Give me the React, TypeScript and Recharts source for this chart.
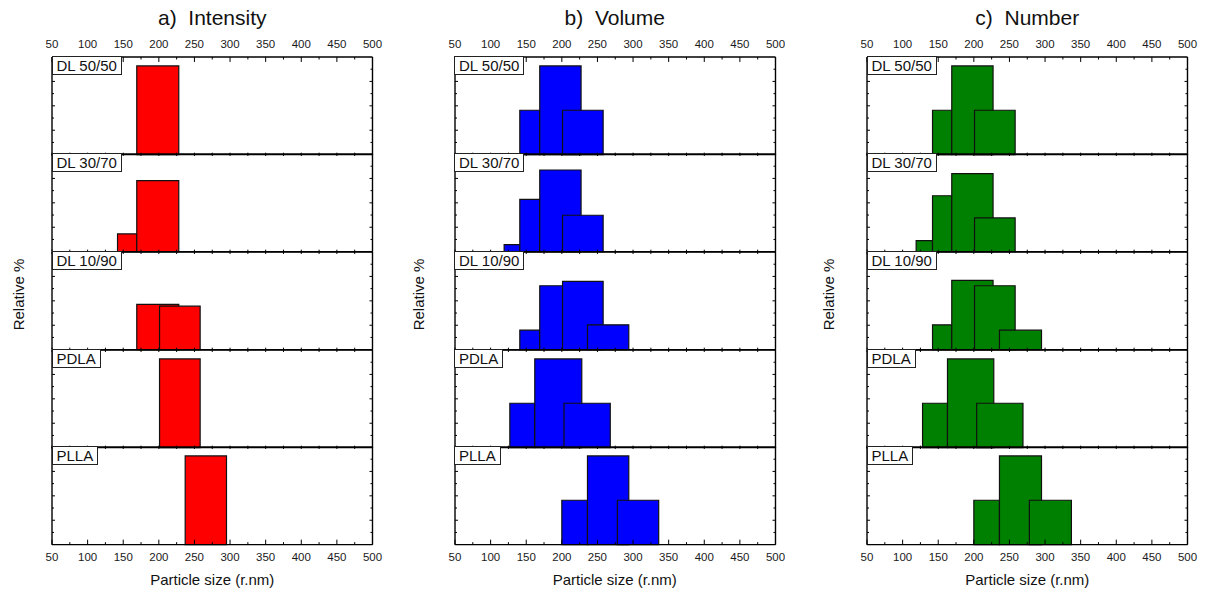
import { ComposedChart, XAxis, YAxis, ReferenceArea } from "recharts";

const FONT = '"Liberation Sans", Arial, Helvetica, sans-serif';

// sample rows, top to bottom
const samples = ["DL 50/50", "DL 30/70", "DL 10/90", "PDLA", "PLLA"];
const panelTitles = ["a)  Intensity", "b)  Volume", "c)  Number"];
const panelColors = ["#ff0000", "#0000ff", "#008000"];

const xMajorTicks = [50, 100, 150, 200, 250, 300, 350, 400, 450, 500];
const xAllTicks = [
  50, 75, 100, 125, 150, 175, 200, 225, 250, 275, 300, 325, 350, 375, 400, 425, 450, 475, 500,
];
const yTicks = [13.75, 27.5, 41.25, 55, 68.75, 82.5, 96.25];

// [lower size, upper size, relative %] per size class
type Bin = [number, number, number];

const intensityBins: Bin[][] = [
  [[169, 228, 100]],
  [[142, 169, 20], [169, 228, 80]],
  [[169, 228, 51], [201, 258, 49]],
  [[201, 258, 100]],
  [[237, 295, 100]],
];

const volumeBins: Bin[][] = [
  [[141, 169, 50], [169, 227, 100], [201, 258, 50]],
  [[119, 141, 8], [141, 169, 59], [169, 227, 92], [201, 258, 41]],
  [[141, 169, 22], [169, 227, 72], [201, 258, 77], [236, 294, 28]],
  [[127, 162, 50], [162, 228, 100], [203, 268, 50]],
  [[200, 236, 50], [236, 294, 100], [278, 336, 50]],
];

const numberBins: Bin[][] = [
  [[142, 169, 50], [169, 227, 100], [201, 258, 50]],
  [[119, 142, 12.5], [142, 169, 63], [169, 227, 88], [201, 258, 38]],
  [[142, 169, 28], [169, 227, 78], [201, 258, 72], [236, 295, 22]],
  [[128, 163, 50], [163, 228, 100], [204, 269, 50]],
  [[200, 236, 50], [236, 295, 100], [278, 337, 50]],
];

const panels = [intensityBins, volumeBins, numberBins];

// layout
const PLOT_LEFT = [52, 454.5, 867];
const YLABEL_X = [18.3, 418.3, 828.3];
const PLOT_W = 320.5;
const PLOT_TOP = 56.7;
const SUB_H = 97.66;
const PAD = 10;
const TOP_EXTRA = 40;
const BOTTOM_EXTRA = 30;
const AXIS_SIZE = 1; // axes take 1px of the margin

function XTick(props: any) {
  const { x, y, payload, side, outer } = props;
  const v = payload.value;
  const major = xMajorTicks.includes(v);
  const dir = side === "top" ? 1 : -1;
  const len = outer ? (major ? 5 : 2.5) : 2;
  return (
    <g>
      <line x1={x} x2={x} y1={y} y2={y + dir * len} stroke="#000" strokeWidth={1} />
      {outer && major && (
        <text
          x={x}
          y={side === "top" ? y - 9 : y + 16}
          textAnchor="middle"
          fontSize={11.5}
          fontFamily={FONT}
          fill="#1a1a1a"
        >
          {v}
        </text>
      )}
    </g>
  );
}

function YTick(props: any) {
  const { x, y, index, side } = props;
  const dir = side === "left" ? 1 : -1;
  const len = index % 2 === 1 ? 3 : 2;
  return <line x1={x} x2={x + dir * len} y1={y} y2={y} stroke="#000" strokeWidth={1} />;
}

function SubPlot({
  bins,
  color,
  row,
  left,
}: {
  bins: Bin[];
  color: string;
  row: number;
  left: number;
}) {
  const first = row === 0;
  const last = row === samples.length - 1;
  const mTop = first ? TOP_EXTRA : PAD;
  const mBottom = last ? BOTTOM_EXTRA : PAD;
  const top = PLOT_TOP + row * SUB_H;
  const axisLine = { stroke: "#000", strokeWidth: 1.4 };
  const data = bins.map(([lo, hi, value]) => ({ lo, hi, value }));

  return (
    <div style={{ position: "absolute", left: left - PAD, top: top - mTop }}>
      <ComposedChart
        width={PLOT_W + 2 * PAD}
        height={SUB_H + mTop + mBottom}
        margin={{
          top: mTop - AXIS_SIZE,
          right: PAD - AXIS_SIZE,
          bottom: mBottom - AXIS_SIZE,
          left: PAD - AXIS_SIZE,
        }}
        data={data}
      >
        <XAxis
          xAxisId="b"
          dataKey="lo"
          type="number"
          domain={[50, 500]}
          allowDataOverflow
          ticks={xAllTicks}
          interval={0}
          orientation="bottom"
          height={AXIS_SIZE}
          tickSize={0}
          tickMargin={0}
          tickLine={false}
          axisLine={axisLine}
          tick={(p: any) => <XTick {...p} side="bottom" outer={last} />}
        />
        <XAxis
          xAxisId="t"
          dataKey="lo"
          type="number"
          domain={[50, 500]}
          allowDataOverflow
          ticks={xAllTicks}
          interval={0}
          orientation="top"
          height={AXIS_SIZE}
          tickSize={0}
          tickMargin={0}
          tickLine={false}
          axisLine={axisLine}
          tick={(p: any) => <XTick {...p} side="top" outer={first} />}
        />
        <YAxis
          yAxisId="l"
          dataKey="value"
          type="number"
          domain={[0, 110]}
          allowDataOverflow
          ticks={yTicks}
          interval={0}
          width={AXIS_SIZE}
          tickSize={0}
          tickMargin={0}
          tickLine={false}
          axisLine={axisLine}
          tick={(p: any) => <YTick {...p} side="left" />}
        />
        <YAxis
          yAxisId="r"
          dataKey="value"
          orientation="right"
          type="number"
          domain={[0, 110]}
          allowDataOverflow
          ticks={yTicks}
          interval={0}
          width={AXIS_SIZE}
          tickSize={0}
          tickMargin={0}
          tickLine={false}
          axisLine={axisLine}
          tick={(p: any) => <YTick {...p} side="right" />}
        />
        {data.map((d, i) => (
          <ReferenceArea
            key={i}
            xAxisId="b"
            yAxisId="l"
            x1={d.lo}
            x2={d.hi}
            y1={0}
            y2={d.value}
            fill={color}
            fillOpacity={1}
            stroke="#111"
            strokeWidth={1.2}
          />
        ))}
      </ComposedChart>
    </div>
  );
}

export default function App() {
  const plotBottom = PLOT_TOP + samples.length * SUB_H;
  return (
    <div
      style={{
        position: "absolute",
        left: 0,
        top: 0,
        width: 1206,
        height: 592,
        background: "#fff",
        fontFamily: FONT,
        overflow: "hidden",
      }}
    >
      {panels.map((rows, p) =>
        rows.map((bins, r) => (
          <SubPlot key={`${p}-${r}`} bins={bins} color={panelColors[p]} row={r} left={PLOT_LEFT[p]} />
        ))
      )}

      {panels.map((_, p) =>
        samples.map((name, r) => (
          <div
            key={`lab-${p}-${r}`}
            style={{
              position: "absolute",
              left: PLOT_LEFT[p] - 0.5,
              top: PLOT_TOP + r * SUB_H - 1,
              height: 17,
              lineHeight: "17px",
              padding: "0 4px",
              border: "1px solid #222",
              background: "#fff",
              fontSize: 15,
              color: "#111",
              whiteSpace: "nowrap",
            }}
          >
            {name}
          </div>
        ))
      )}

      <svg
        width={1206}
        height={592}
        style={{ position: "absolute", left: 0, top: 0, pointerEvents: "none" }}
      >
        {panels.map((_, p) => {
          const cx = PLOT_LEFT[p] + PLOT_W / 2;
          return (
            <g key={`t-${p}`} fontFamily={FONT} fill="#111">
              <text x={cx} y={25} textAnchor="middle" fontSize={21} style={{ whiteSpace: "pre" }}>
                {panelTitles[p]}
              </text>
              <text x={cx} y={plotBottom + 39.5} textAnchor="middle" fontSize={15}>
                Particle size (r.nm)
              </text>
              <text
                transform={`translate(${YLABEL_X[p]}, 294.5) rotate(-90)`}
                textAnchor="middle"
                dominantBaseline="central"
                fontSize={15}
              >
                Relative %
              </text>
            </g>
          );
        })}
      </svg>
    </div>
  );
}
